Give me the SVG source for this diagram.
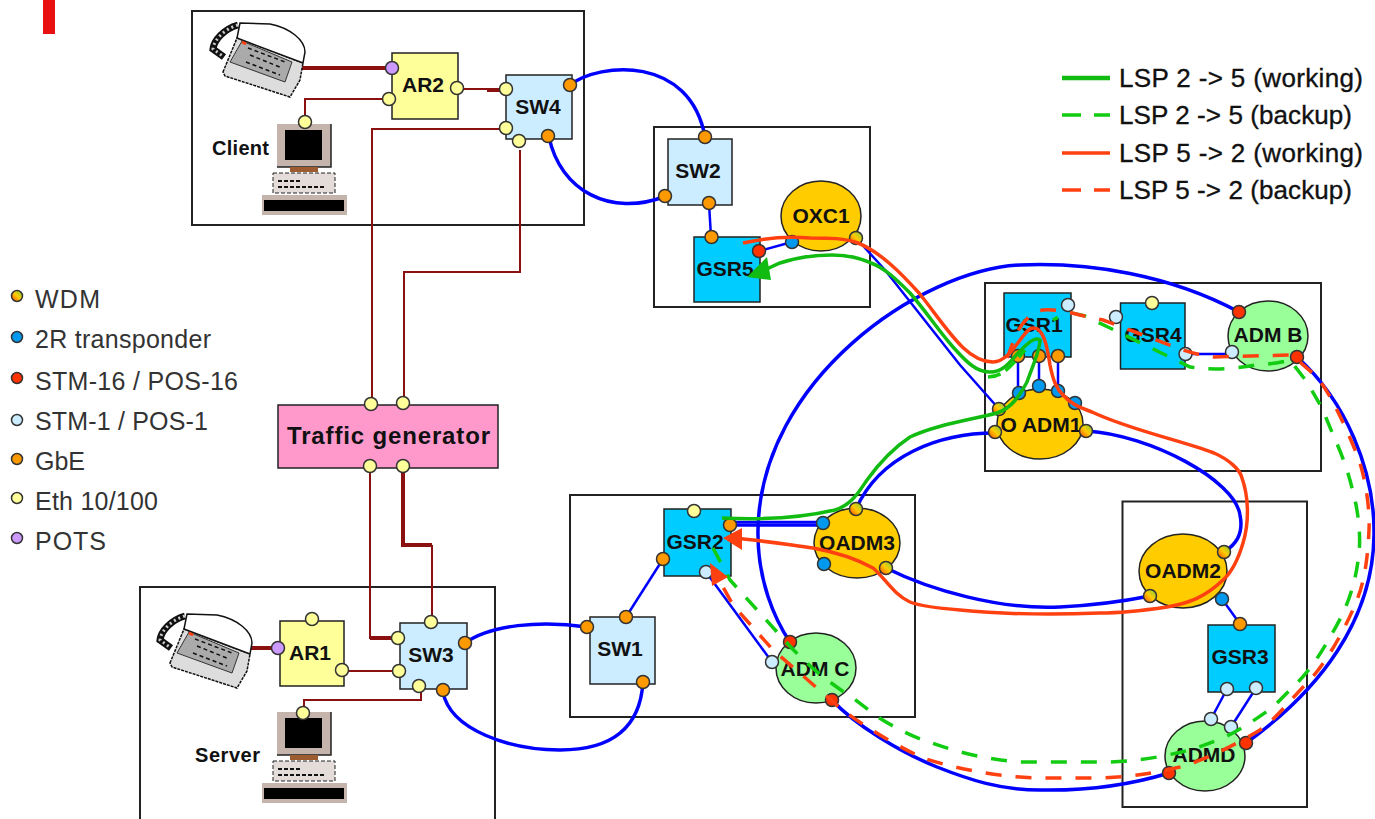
<svg xmlns="http://www.w3.org/2000/svg" xmlns:xlink="http://www.w3.org/1999/xlink" width="1375" height="819" viewBox="0 0 1375 819">
<style>
text{font-family:"Liberation Sans",Arial,sans-serif;fill:#111}
.lbl{font-weight:bold;font-size:21px;text-anchor:middle}
.leg{font-size:26px;stroke:#111;stroke-width:.35}
.left{font-size:25px;fill:#333}
.box{fill:none;stroke:#222;stroke-width:2}
.n{stroke:#222;stroke-width:1.5}
.y{fill:#FFFF99}.lb{fill:#CCECFF}.c{fill:#00CCFF}.o{fill:#FFCC00}.g{fill:#99FF99}
.p{stroke:#333;stroke-width:1.5}
.py{fill:#FFFF99}.po{fill:#FF9900}.pr{fill:#FF3300}.pb{fill:#0099EE}.pl{fill:#CCECFF}.pp{fill:#CC99FF}.pw{fill:url(#wdm)}
.dr{fill:none;stroke:#8B1010;stroke-width:2}
.drt{fill:none;stroke:#8B1010;stroke-width:4}
.bl{fill:none;stroke:#0000FF;stroke-width:3.5}
.blt{fill:none;stroke:#0000FF;stroke-width:2.5}
.gs{fill:none;stroke:#11BB11;stroke-width:3.5}
.gd{fill:none;stroke:#11CC11;stroke-width:3.5;stroke-dasharray:16 14}
.rs{fill:none;stroke:#FF4010;stroke-width:3.5}
.rd{fill:none;stroke:#FF4010;stroke-width:3.5;stroke-dasharray:16 14}
</style>
<defs>
<linearGradient id="wdm" x1="0" y1="1" x2="1" y2="0"><stop offset="0" stop-color="#FF4400"/><stop offset="0.5" stop-color="#FFCC00"/><stop offset="1" stop-color="#77CC44"/></linearGradient>
<g id="phone">
<path d="M223,72 L237,38 L303,63 L300,80 L290,97 L225,76Z" fill="#dddddd" stroke="#111" stroke-width="1.5" stroke-dasharray="3 1"/>
<path d="M240,23 L270,24 C290,28 305,40 305,52 L303,63 L237,38Z" fill="#fff" stroke="#111" stroke-width="1.5"/>
<path d="M242,41 L292,62 L285,82 L230,62Z" fill="#aaaaaa" stroke="#333"/>
<path d="M248,48 L285,62 M250,55 L282,68 M246,62 L280,75" stroke="#111" stroke-width="1.5" stroke-dasharray="4 3" fill="none"/>
<path d="M238,25 C224,29 214,40 213,49 L224,57" fill="none" stroke="#111" stroke-width="7"/>
<path d="M238,25 C224,29 214,40 213,49 L224,57" fill="none" stroke="#ccc" stroke-width="3" stroke-dasharray="2 3"/>
<path d="M242,42 l4,2" stroke="#FF4010" stroke-width="3"/>
</g>
<g id="pc">
<rect x="277" y="124" width="54" height="43" fill="#C4B4AC"/>
<path d="M331,124 V167 H277" fill="none" stroke="#222" stroke-width="1.5"/>
<rect x="285" y="130" width="37" height="30" fill="#000"/>
<rect x="290" y="167" width="28" height="5" fill="#9C5C30"/>
<rect x="273" y="173" width="62" height="20" fill="#E4DCD8" stroke="#222" stroke-dasharray="4 2"/>
<path d="M278,181 H300 M278,187 H326" stroke="#111" stroke-width="2" stroke-dasharray="4 2"/>
<rect x="262" y="195" width="85" height="20" fill="#C4B4AC"/>
<rect x="264" y="200" width="80" height="11" fill="#000"/>
</g>
</defs>
<rect width="1375" height="819" fill="#fff"/>
<rect x="43" y="0" width="12" height="34" fill="#E81010"/>

<g id="containers">
<rect class="box" x="192" y="11" width="392" height="214"/>
<rect class="box" x="654" y="127" width="216" height="180"/>
<rect class="box" x="985" y="283" width="336" height="188"/>
<rect class="box" x="570" y="495" width="345" height="222"/>
<rect class="box" x="1122.5" y="501.5" width="184.5" height="305.5"/>
<rect class="box" x="140" y="587" width="355" height="240"/>
</g>

<g id="legend-ports">
<circle class="p pw" cx="17" cy="296" r="5.5"/><text class="left" x="35" y="308" textLength="65">WDM</text>
<circle class="p pb" cx="17" cy="337" r="5.5"/><text class="left" x="35" y="348" textLength="176">2R transponder</text>
<circle class="p pr" cx="17" cy="378" r="5.5"/><text class="left" x="35" y="390" textLength="203">STM-16 / POS-16</text>
<circle class="p pl" cx="17" cy="420" r="5.5"/><text class="left" x="35" y="430" textLength="173">STM-1 / POS-1</text>
<circle class="p po" cx="17" cy="459" r="5.5"/><text class="left" x="35" y="470" textLength="50">GbE</text>
<circle class="p py" cx="17" cy="498" r="5.5"/><text class="left" x="35" y="510" textLength="123">Eth 10/100</text>
<circle class="p pp" cx="17" cy="538" r="5.5"/><text class="left" x="35" y="550" textLength="71">POTS</text>
</g>

<g id="legend-lsp">
<path class="gs" d="M1062,78 H1110" style="stroke-width:4.5"/><text class="leg" x="1119" y="87" textLength="244">LSP 2 -&gt; 5 (working)</text>
<path class="gd" d="M1062,115 H1110" style="stroke-dasharray:19 13"/><text class="leg" x="1119" y="124" textLength="233">LSP 2 -&gt; 5 (backup)</text>
<path class="rs" d="M1062,153 H1110"/><text class="leg" x="1119" y="162" textLength="244">LSP 5 -&gt; 2 (working)</text>
<path class="rd" d="M1062,190 H1110" style="stroke-dasharray:19 13"/><text class="leg" x="1119" y="199" textLength="233">LSP 5 -&gt; 2 (backup)</text>
</g>

<g id="connectors">
<path class="drt" d="M300,68 H392"/>
<path class="dr" d="M305,122 V99 H389"/>
<path class="dr" d="M457,89 H506"/><path class="drt" d="M487,90 H506"/>
<path class="dr" d="M506,129 H372 V404"/>
<path class="dr" d="M520,150 V272 H404 V403"/>
<path class="dr" d="M370,466 V638 H398"/><path class="drt" d="M370,638 H398"/>
<path class="drt" d="M403,466 V545 H432"/><path class="dr" d="M432,545 V622"/>
<path class="dr" d="M342,671 H399"/>
<path class="dr" d="M421,686 V700 H304 V713"/>
<path class="drt" d="M250,648 H278"/>

<path class="bl" d="M570,85 C600,62 690,55 705,137"/>
<path class="bl" d="M549,137 C560,190 610,218 666,196"/>
<path class="blt" d="M709,203 L711,237"/>
<path class="blt" d="M759,251 L792,242"/>
<path class="blt" d="M856,238 L885,270 L960,365 L999,409"/>
<path class="blt" d="M1018,356 V393 M1039,356 V386 M1058,356 V391"/>
<path class="blt" d="M1185,354 H1232"/>
<path class="bl" d="M1239,312 C1170,275 1090,262 1020,265 C920,270 760,380 758,530 C757,580 775,620 790,642"/>
<path class="bl" d="M995,433 C940,433 880,455 856,509"/>
<path class="bl" d="M1087,431 C1150,435 1235,480 1240,515 C1244,535 1235,545 1224,552"/>
<path class="bl" d="M886,568 C930,590 1000,610 1060,607 C1100,605 1130,600 1150,596"/>
<path class="blt" d="M1222,599 L1240,624"/>
<path class="blt" d="M1227,689 L1211,719 M1256,688 L1231,727"/>
<path class="blt" d="M730,522 H823"/><path class="bl" d="M735,525 H823"/>
<path class="blt" d="M663,559 L626,617"/>
<path class="blt" d="M706,572 L772,662"/>
<path class="bl" d="M465,643 C490,625 540,620 587,627"/>
<path class="bl" d="M443,692 C450,730 510,750 560,750 C610,750 640,730 643,682"/>
<path class="bl" d="M1297,357 C1345,400 1375,470 1374,535 C1373,620 1320,690 1246,743"/>
<path class="bl" d="M832,700 C855,725 900,752 937,767 C970,780 1000,790 1040,790 C1090,791 1130,785 1169,773"/>
</g>

<g id="node-client-phone"><use href="#phone" xlink:href="#phone"/></g>
<g id="node-client-pc"><use href="#pc" xlink:href="#pc"/><text x="212" y="155" font-weight="bold" font-size="20" textLength="57">Client</text><circle class="p py" cx="305" cy="122" r="6.5"/></g>
<g id="node-server-phone"><use href="#phone" xlink:href="#phone" transform="translate(-53,591)"/></g>
<g id="node-server-pc"><use href="#pc" xlink:href="#pc" transform="translate(0,588)"/><text x="195" y="762" font-weight="bold" font-size="20" textLength="65">Server</text><circle class="p py" cx="303" cy="713" r="6.5"/></g>

<g id="node-traffic"><rect x="278" y="405" width="220" height="63" fill="#FF99CC" stroke="#222" stroke-width="1.5"/><text x="287" y="444" font-weight="bold" font-size="24" textLength="203">Traffic generator</text>
<circle class="p py" cx="371" cy="404" r="6.5"/><circle class="p py" cx="403" cy="403" r="6.5"/><circle class="p py" cx="370" cy="466" r="6.5"/><circle class="p py" cx="403" cy="466" r="6.5"/></g>

<g id="node-AR2"><rect class="n y" x="392" y="53" width="66" height="66"/><text class="lbl" x="423" y="92">AR2</text>
<circle class="p pp" cx="392" cy="68" r="6.5"/><circle class="p py" cx="389" cy="99" r="6.5"/><circle class="p py" cx="457" cy="88" r="6.5"/></g>
<g id="node-SW4"><rect class="n lb" x="506" y="75" width="66" height="64"/><text class="lbl" x="538" y="114">SW4</text>
<circle class="p py" cx="506" cy="89" r="6.5"/><circle class="p py" cx="506" cy="128" r="6.5"/><circle class="p py" cx="519" cy="141" r="6.5"/><circle class="p po" cx="548" cy="136" r="6.5"/><circle class="p po" cx="570" cy="85" r="6.5"/></g>
<g id="node-SW2"><rect class="n lb" x="668" y="139" width="64" height="66"/><text class="lbl" x="698" y="178">SW2</text>
<circle class="p po" cx="705" cy="137" r="6.5"/><circle class="p po" cx="665" cy="196" r="6.5"/><circle class="p po" cx="709" cy="203" r="6.5"/></g>
<g id="node-GSR5"><rect class="n c" x="694" y="237" width="66" height="65"/><text class="lbl" x="725" y="276">GSR5</text>
<circle class="p po" cx="711.5" cy="237" r="6.5"/><circle class="p pr" cx="759" cy="251" r="6.5"/></g>
<g id="node-OXC1"><ellipse class="n o" cx="821" cy="216" rx="40" ry="35"/><text class="lbl" x="821" y="223">OXC1</text>
<circle class="p pb" cx="792" cy="242" r="6.5"/><circle class="p pw" cx="856" cy="238" r="6.5"/></g>
<g id="node-GSR1"><rect class="n c" x="1004" y="293" width="67" height="64"/><text class="lbl" x="1034" y="332">GSR1</text>
<circle class="p pl" cx="1068" cy="305" r="6.5"/><circle class="p po" cx="1018" cy="356" r="6.5"/><circle class="p po" cx="1039" cy="356" r="6.5"/><circle class="p po" cx="1058" cy="356" r="6.5"/></g>
<g id="node-GSR4"><rect class="n c" x="1120.5" y="303" width="64.5" height="66"/><text class="lbl" x="1153" y="342">GSR4</text>
<circle class="p pl" cx="1116" cy="317" r="6.5"/><circle class="p py" cx="1152" cy="303" r="6.5"/><circle class="p pl" cx="1185.5" cy="354" r="6.5"/></g>
<g id="node-ADMB"><ellipse class="n g" cx="1268" cy="336" rx="40" ry="35"/><text class="lbl" x="1268" y="342">ADM B</text>
<circle class="p pr" cx="1239" cy="312" r="6.5"/><circle class="p pl" cx="1232" cy="352" r="6.5"/><circle class="p pr" cx="1297" cy="357" r="6.5"/></g>
<g id="node-OADM1"><ellipse class="n o" cx="1040" cy="424" rx="43" ry="35"/><text class="lbl" x="1041" y="432"><tspan>O</tspan><tspan dx="5">ADM1</tspan></text>
<circle class="p pb" cx="1019" cy="393" r="6.5"/><circle class="p pb" cx="1039" cy="386" r="6.5"/><circle class="p pb" cx="1058" cy="391" r="6.5"/><circle class="p pb" cx="1075" cy="403" r="6.5"/><circle class="p pw" cx="999" cy="409" r="6.5"/><circle class="p pw" cx="995" cy="432" r="6.5"/><circle class="p pw" cx="1086" cy="431" r="6.5"/></g>
<g id="node-GSR2"><rect class="n c" x="664" y="509" width="67" height="67"/><text class="lbl" x="695" y="549">GSR2</text>
<circle class="p py" cx="694" cy="511" r="6.5"/><circle class="p po" cx="730" cy="525" r="6.5"/><circle class="p po" cx="663" cy="559" r="6.5"/><circle class="p pl" cx="706" cy="572" r="6.5"/></g>
<g id="node-OADM3"><ellipse class="n o" cx="857" cy="543" rx="43" ry="35"/><text class="lbl" x="857" y="550">OADM3</text>
<circle class="p pw" cx="856" cy="509" r="6.5"/><circle class="p pb" cx="823" cy="523" r="6.5"/><circle class="p pb" cx="824" cy="564" r="6.5"/><circle class="p pw" cx="886" cy="568" r="6.5"/></g>
<g id="node-SW1"><rect class="n lb" x="590" y="617" width="65" height="67"/><text class="lbl" x="620" y="656">SW1</text>
<circle class="p po" cx="626" cy="617" r="6.5"/><circle class="p po" cx="587" cy="627" r="6.5"/><circle class="p po" cx="643" cy="682" r="6.5"/></g>
<g id="node-ADMC"><ellipse class="n g" cx="816" cy="668" rx="40" ry="35"/><text class="lbl" x="815" y="676">ADM C</text>
<circle class="p pr" cx="790" cy="642" r="6.5"/><circle class="p pl" cx="772" cy="662" r="6.5"/><circle class="p pr" cx="832" cy="700" r="6.5"/></g>
<g id="node-OADM2"><ellipse class="n o" cx="1183" cy="571" rx="44" ry="37"/><text class="lbl" x="1183" y="578">OADM2</text>
<circle class="p pw" cx="1224" cy="552" r="6.5"/><circle class="p pw" cx="1150" cy="596" r="6.5"/><circle class="p pb" cx="1222" cy="599" r="6.5"/></g>
<g id="node-GSR3"><rect class="n c" x="1208" y="625" width="67" height="67"/><text class="lbl" x="1240" y="664">GSR3</text>
<circle class="p po" cx="1240" cy="624" r="6.5"/><circle class="p pl" cx="1227" cy="689" r="6.5"/><circle class="p pl" cx="1256" cy="688" r="6.5"/></g>
<g id="node-ADMD"><ellipse class="n g" cx="1205" cy="756" rx="40" ry="35"/><text class="lbl" x="1204" y="762">ADMD</text>
<circle class="p pl" cx="1211" cy="719" r="6.5"/><circle class="p pl" cx="1231" cy="727" r="6.5"/><circle class="p pr" cx="1246" cy="743" r="6.5"/><circle class="p pr" cx="1169" cy="773" r="6.5"/></g>
<g id="node-AR1"><rect class="n y" x="280" y="621" width="64" height="65"/><text class="lbl" x="310" y="660">AR1</text>
<circle class="p py" cx="312" cy="619" r="6.5"/><circle class="p pp" cx="278" cy="648" r="6.5"/><circle class="p py" cx="342" cy="670" r="6.5"/></g>
<g id="node-SW3"><rect class="n lb" x="400" y="623" width="67" height="66"/><text class="lbl" x="431" y="662">SW3</text>
<circle class="p py" cx="398" cy="638" r="6.5"/><circle class="p py" cx="399" cy="671" r="6.5"/><circle class="p py" cx="431" cy="622" r="6.5"/><circle class="p py" cx="419" cy="686" r="6.5"/><circle class="p po" cx="465" cy="643" r="6.5"/><circle class="p po" cx="443" cy="690" r="6.5"/></g>

<g id="connectors-lsp">
<path class="gd" d="M713,548 L730,580 L787,643 C810,668 830,683 853,698 L878,717 C895,728 915,738 932,743 C960,753 990,760 1020,762 L1110,762 C1130,761 1150,759 1167,755 C1190,751 1205,745 1223,738 C1240,730 1255,720 1273,707 L1297,683 C1310,670 1320,655 1330,637 C1345,612 1355,590 1359,553 C1361,535 1358,510 1353,492 C1348,470 1340,450 1334,437 L1322,408 L1307,382 L1290,360 C1280,363 1270,364 1255,365 C1240,368 1215,371 1190,367 L1110,328 L1085,316 L1068,312 L1053,320"/>
<path class="gd" d="M988,377 C1003,377 1012,365 1025,350" style="stroke-dasharray:13 6"/>
<path class="rd" d="M1007,358 L1015,337 C1020,325 1030,312 1043,310 C1055,309 1070,312 1080,315 L1103,320 L1183,350 C1195,354 1205,356 1214,357 L1292,355 L1317,377 C1330,393 1345,425 1358,457 C1366,480 1370,510 1369,530 C1368,555 1365,580 1357,600 C1345,630 1325,665 1307,683 C1290,700 1275,720 1260,730 C1235,745 1205,760 1180,767 C1150,774 1130,777 1100,778 L1040,778 C1000,777 960,770 923,758 C895,745 865,727 840,708 L817,688 L773,650 L733,605 L718,578"/>
<path class="rs" d="M743,243 C765,238 790,236 810,238 C830,238 845,238 858,243 C880,252 900,272 919,293 C945,325 965,362 993,362 C1012,362 1023,328 1033,328 C1043,327 1047,345 1050,365 C1053,380 1056,388 1063,395 C1070,403 1078,407 1092,412 C1130,430 1180,440 1214,453 C1230,460 1240,470 1242,478 C1248,495 1250,520 1243,543 C1238,560 1232,572 1223,580 C1205,597 1190,603 1167,607 C1140,611 1120,613 1100,613 C1050,615 1000,614 960,610 C935,608 920,606 910,602 C893,594 885,578 873,568 C855,558 835,552 813,548 C790,545 765,541 735,538"/>
<path class="gs" d="M722,518 C760,520 800,518 835,510 C852,505 860,490 867,480 C880,462 895,447 910,437 C935,425 970,420 997,413 C1012,408 1020,395 1027,382 C1033,365 1040,350 1040,340 C1034,336 1026,345 1018,353 C1010,362 1003,372 990,372 C975,372 965,360 953,347 C938,330 925,310 910,293 C897,280 885,268 871,263 C858,257 845,255 832,255 C812,255 795,258 780,263 L760,272"/>
<polygon points="767,257 747,277 771,280" fill="#11BB11"/>
<polygon points="723,538 742,528 742,550" fill="#FF4010"/>
<polygon points="710,563 728,577 712,586" fill="#FF4010"/>
</g>
</svg>
